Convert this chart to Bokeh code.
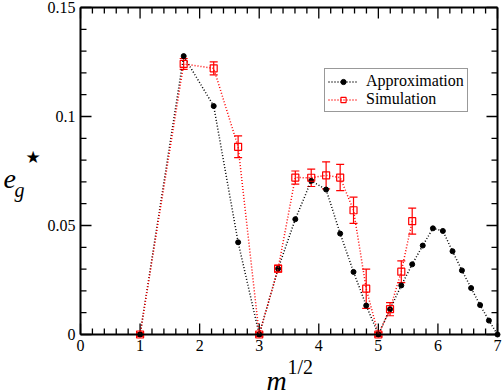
from bokeh.plotting import figure
from bokeh.models import (Range1d, LinearAxis, SingleIntervalTicker, CustomJSTickFormatter,
                          ColumnDataSource, Whisker, TeeHead, Legend, LegendItem, Label)
from bokeh.embed import file_html
from bokeh.resources import INLINE

# ---- data ----
approx_x = [1.0, 1.732, 2.236, 2.646, 3.0, 3.317, 3.606, 3.873, 4.123, 4.359, 4.583, 4.796,
            5.0, 5.196, 5.385, 5.568, 5.745, 5.916, 6.083, 6.245, 6.403, 6.557, 6.708, 6.856, 7.0]
approx_y = [0.0, 0.1277, 0.1048, 0.0423, 0.0, 0.0302, 0.0529, 0.0705, 0.0665, 0.0463, 0.0287, 0.0133,
            0.0, 0.0116, 0.0225, 0.0322, 0.0408, 0.0487, 0.0475, 0.0382, 0.0294, 0.0213, 0.0135, 0.0064, 0.0]

sim_x = [1.0, 1.732, 2.236, 2.646, 3.0, 3.317, 3.606, 3.873, 4.123, 4.359, 4.583, 4.796,
         5.0, 5.196, 5.385, 5.568]
sim_y = [0.0, 0.1241, 0.1221, 0.0861, 0.0, 0.0302, 0.0720, 0.0719, 0.0730, 0.0720, 0.0570, 0.0210,
         0.0, 0.0116, 0.0288, 0.0520]
sim_err = [0.001, 0.0025, 0.003, 0.005, 0.001, 0.0015, 0.003, 0.004, 0.0062, 0.006, 0.006, 0.009,
           0.001, 0.003, 0.005, 0.006]

series_names = ["Approximation", "Simulation"]
x_limits = (0, 7)
y_limits = (0, 0.15)
x_major_step, x_minor_step = 1, 0.2
y_major_step, y_minor_step = 0.05, 0.01

# ---- layout (pixels) ----
W, H = 503, 391
PX_L, PX_R, PX_T, PX_B = 80, 497, 7, 334
MAJOR_LEN, MINOR_LEN = 11, 6
SERIF = "Liberation Serif"

sx = (PX_R - PX_L) / (x_limits[1] - x_limits[0])
sy = (PX_B - PX_T) / (y_limits[1] - y_limits[0])
x_range = Range1d(x_limits[0] - PX_L / sx, x_limits[1] + (W - PX_R) / sx)
y_range = Range1d(y_limits[0] - (H - PX_B) / sy, y_limits[1] + PX_T / sy)

p = figure(width=W, height=H, output_backend="svg", toolbar_location=None,
           x_range=x_range, y_range=y_range, x_axis_location=None, y_axis_location=None,
           min_border=0, min_border_left=0, min_border_right=0, min_border_top=0,
           min_border_bottom=0)
p.xgrid.visible = False
p.ygrid.visible = False
p.outline_line_color = None
p.background_fill_color = None
p.border_fill_color = "white"

fmt = CustomJSTickFormatter(code="return String(Number(tick.toFixed(3)));")
EPS = 1e-9


def make_axis(loc, bounds, ticker, labels=True):
    ax = LinearAxis(fixed_location=loc, bounds=(bounds[0] - EPS, bounds[1] + EPS), ticker=ticker)
    ax.axis_line_width = 2
    ax.axis_line_color = "black"
    ax.major_tick_in = MAJOR_LEN
    ax.major_tick_out = 0
    ax.minor_tick_in = MINOR_LEN
    ax.minor_tick_out = 0
    ax.major_tick_line_color = None
    ax.minor_tick_line_color = None
    if labels:
        ax.major_label_text_font = SERIF
        ax.major_label_text_font_size = "16px"
        ax.major_label_text_color = "black"
        ax.major_label_standoff = 5
        ax.formatter = fmt
    else:
        ax.major_label_text_color = None
        ax.major_label_text_font_size = "1px"
    return ax


x_ticker = SingleIntervalTicker(interval=x_major_step, num_minor_ticks=5)
y_ticker = SingleIntervalTicker(interval=y_major_step, num_minor_ticks=5)
p.add_layout(make_axis(y_limits[0], x_limits, x_ticker), "below")
p.add_layout(make_axis(y_limits[1], x_limits, x_ticker, False), "above")
p.add_layout(make_axis(x_limits[0], y_limits, y_ticker), "left")
p.add_layout(make_axis(x_limits[1], y_limits, y_ticker, False), "right")

# ---- inward tick marks on all four sides (axis decoration) ----
def tick_values(lo, hi, step):
    n = int(round((hi - lo) / step))
    return [round(lo + i * step, 6) for i in range(n + 1)]


xt_major = tick_values(x_limits[0], x_limits[1], x_major_step)
xt_minor = [t for t in tick_values(x_limits[0], x_limits[1], x_minor_step) if t not in xt_major]
yt_major = tick_values(y_limits[0], y_limits[1], y_major_step)
yt_minor = [t for t in tick_values(y_limits[0], y_limits[1], y_minor_step)
            if all(abs(t - m) > 1e-9 for m in yt_major)]

tx0, tx1, ty0, ty1 = [], [], [], []
for ticks, length in ((xt_major, MAJOR_LEN), (xt_minor, MINOR_LEN)):
    for t in ticks:
        tx0 += [t, t]
        tx1 += [t, t]
        ty0 += [y_limits[0], y_limits[1]]
        ty1 += [y_limits[0] + length / sy, y_limits[1] - length / sy]
for ticks, length in ((yt_major, MAJOR_LEN), (yt_minor, MINOR_LEN)):
    for t in ticks:
        ty0 += [t, t]
        ty1 += [t, t]
        tx0 += [x_limits[0], x_limits[1]]
        tx1 += [x_limits[0] + length / sx, x_limits[1] - length / sx]
tick_src = ColumnDataSource(dict(x0=tx0, y0=ty0, x1=tx1, y1=ty1))
p.segment(x0="x0", y0="y0", x1="x1", y1="y1", source=tick_src,
          line_color="black", line_width=1.3)

# ---- approximation ----
a_src = ColumnDataSource(dict(x=approx_x, y=approx_y))
a_line = p.line("x", "y", source=a_src, line_color="black", line_width=1.5, line_dash="1 2")
a_pts = p.scatter("x", "y", source=a_src, marker="circle", size=5, fill_color="black",
                  line_color="black")

# ---- simulation ----
s_src = ColumnDataSource(dict(x=sim_x, y=sim_y,
                              lo=[v - e for v, e in zip(sim_y, sim_err)],
                              hi=[v + e for v, e in zip(sim_y, sim_err)]))
s_line = p.line("x", "y", source=s_src, line_color="red", line_width=1.5, line_dash="1 2")
wh = Whisker(source=s_src, base="x", lower="lo", upper="hi", line_color="red", line_width=1.2,
             upper_head=TeeHead(size=8, line_color="red", line_width=1.2),
             lower_head=TeeHead(size=8, line_color="red", line_width=1.2))
p.add_layout(wh)
s_pts = p.scatter("x", "y", source=s_src, marker="square", size=7, fill_color=None,
                  line_color="red", line_width=1.2)

legend = Legend(items=[LegendItem(label=series_names[0], renderers=[a_line, a_pts]),
                       LegendItem(label=series_names[1], renderers=[s_line, s_pts])],
                location=(324, H - 112))
legend.label_text_font = SERIF
legend.label_text_font_size = "16px"
legend.label_text_color = "black"
legend.border_line_color = "#333333"
legend.border_line_width = 1.2
legend.background_fill_color = "white"
legend.background_fill_alpha = 1
legend.padding = 3
legend.spacing = 0
legend.margin = 0
legend.glyph_width = 30
legend.glyph_height = 13
legend.label_height = 16
legend.label_standoff = 8
p.add_layout(legend)

# ---- axis titles (screen units from the canvas' bottom-left) ----
def add_text(txt, x, y, size, font=SERIF, style="normal", baseline="alphabetic"):
    p.add_layout(Label(x=x, y=y, x_units="screen", y_units="screen", text=txt,
                       text_font=font, text_font_style=style, text_font_size=size,
                       text_baseline=baseline, text_align="left", text_color="black"))


add_text("e", 3, H - 178, "28px", style="italic")
add_text("g", 14, H - 189, "20px", style="italic")
add_text("\u2605", 25, H - 156, "17px", font="DejaVu Sans", baseline="middle")
add_text("m", 266, H - 380, "28px", style="italic")
add_text("1/2", 287, H - 366, "20px")

open("out.html", "w").write(file_html(p, INLINE))
